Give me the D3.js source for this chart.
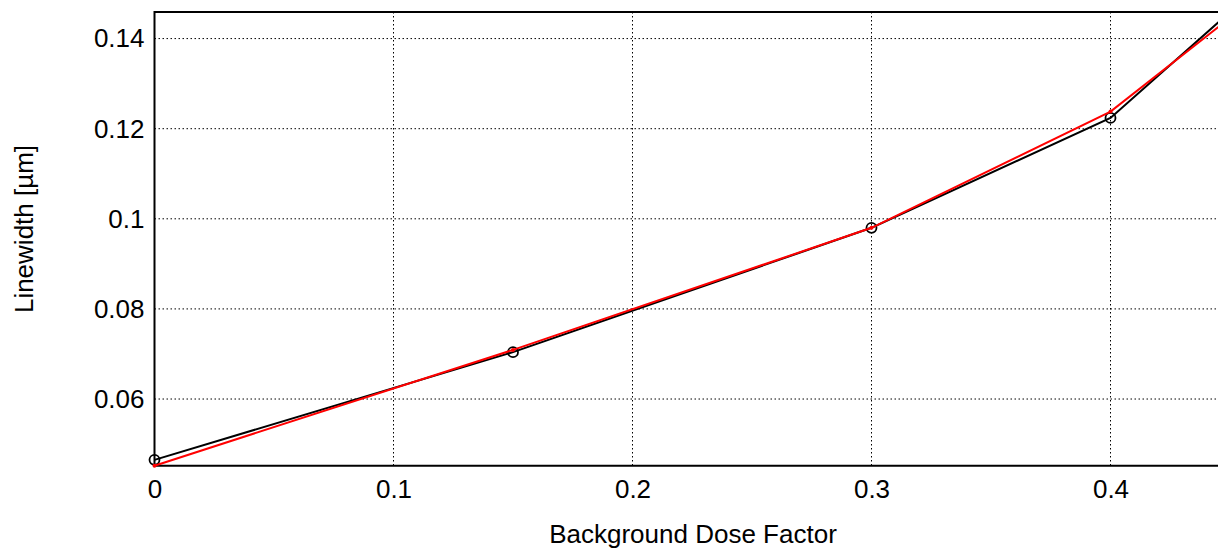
<!DOCTYPE html>
<html>
<head>
<meta charset="utf-8">
<script src="https://cdn.jsdelivr.net/npm/d3@7"></script>
<style>
  body { margin: 0; background: #fff; }
  svg { display: block; font-family: "Liberation Sans", Arial, sans-serif; }
  .grid line { stroke: #000; stroke-width: 1; stroke-dasharray: 1.5,2.5; }
</style>
</head>
<body>
<svg id="chart" width="1218" height="549"></svg>
<script>
// background dose factor vs. linewidth
var doseFactor = [0, 0.15, 0.3, 0.4, 0.45];
var measured = [0.0465, 0.0704, 0.098, 0.1224, 0.1459];
var fitted = [0.0452, 0.0709, 0.098, 0.1238, 0.1446];
var xTicks = [0, 0.1, 0.2, 0.3, 0.4];
var yTicks = [0.06, 0.08, 0.1, 0.12, 0.14];

var svg = d3.select("#chart");
var pLeft = 154.5, pTop = 12, pRight = 1230, pBottom = 465.7;
var fontSize = 26;

var x = d3.scaleLinear().domain([0, 0.45]).range([pLeft, pRight]);
var y = d3.scaleLinear().domain([0.0452, 0.1459]).range([pBottom, pTop]);

// grid
var grid = svg.append("g").attr("class", "grid");
grid.selectAll(".gx").data(xTicks.slice(1)).enter().append("line")
  .attr("x1", function (d) { return x(d); }).attr("x2", function (d) { return x(d); })
  .attr("y1", pTop).attr("y2", pBottom);
grid.selectAll(".gy").data(yTicks).enter().append("line")
  .attr("x1", pLeft).attr("x2", pRight)
  .attr("y1", function (d) { return y(d); }).attr("y2", function (d) { return y(d); });

// frame
svg.append("path")
  .attr("d", "M" + pRight + "," + pTop + "H" + pLeft + "V" + pBottom + "H" + pRight)
  .attr("fill", "none").attr("stroke", "#000").attr("stroke-width", 2);

// axes
var xAxis = svg.append("g")
  .attr("transform", "translate(0," + pBottom + ")")
  .call(d3.axisBottom(x).tickValues(xTicks).tickSize(0).tickPadding(14)
    .tickFormat(function (d) { return String(d); }));
var yAxis = svg.append("g")
  .attr("transform", "translate(" + pLeft + ",0)")
  .call(d3.axisLeft(y).tickValues(yTicks).tickSize(0).tickPadding(10)
    .tickFormat(function (d) { return String(d); }));
[xAxis, yAxis].forEach(function (a) {
  a.select(".domain").remove();
  a.selectAll("text").attr("font-size", fontSize).attr("fill", "#000")
    .attr("font-family", "Liberation Sans, Arial, sans-serif");
});

svg.append("text")
  .attr("x", 693).attr("y", 543)
  .attr("text-anchor", "middle").attr("font-size", fontSize)
  .text("Background Dose Factor");
svg.append("text")
  .attr("transform", "translate(33,229) rotate(-90)")
  .attr("text-anchor", "middle").attr("font-size", fontSize)
  .text("Linewidth [µm]");

var line = d3.line()
  .x(function (d) { return x(d[0]); })
  .y(function (d) { return y(d[1]); });

var blackData = d3.zip(doseFactor, measured);
var redData = d3.zip(doseFactor, fitted);

svg.append("path").datum(blackData)
  .attr("d", line).attr("fill", "none").attr("stroke", "#000").attr("stroke-width", 2);
svg.selectAll(".pt").data(blackData.slice(0, 4)).enter().append("circle")
  .attr("cx", function (d) { return x(d[0]); })
  .attr("cy", function (d) { return y(d[1]); })
  .attr("r", 5).attr("fill", "none").attr("stroke", "#000").attr("stroke-width", 1.8);

svg.append("path").datum(redData)
  .attr("d", line).attr("fill", "none").attr("stroke", "#f00").attr("stroke-width", 2);
svg.selectAll(".rpt").data(redData.slice(0, 4)).enter().append("circle")
  .attr("cx", function (d) { return x(d[0]); })
  .attr("cy", function (d) { return y(d[1]); })
  .attr("r", 2).attr("fill", "#f00");
</script>
</body>
</html>
